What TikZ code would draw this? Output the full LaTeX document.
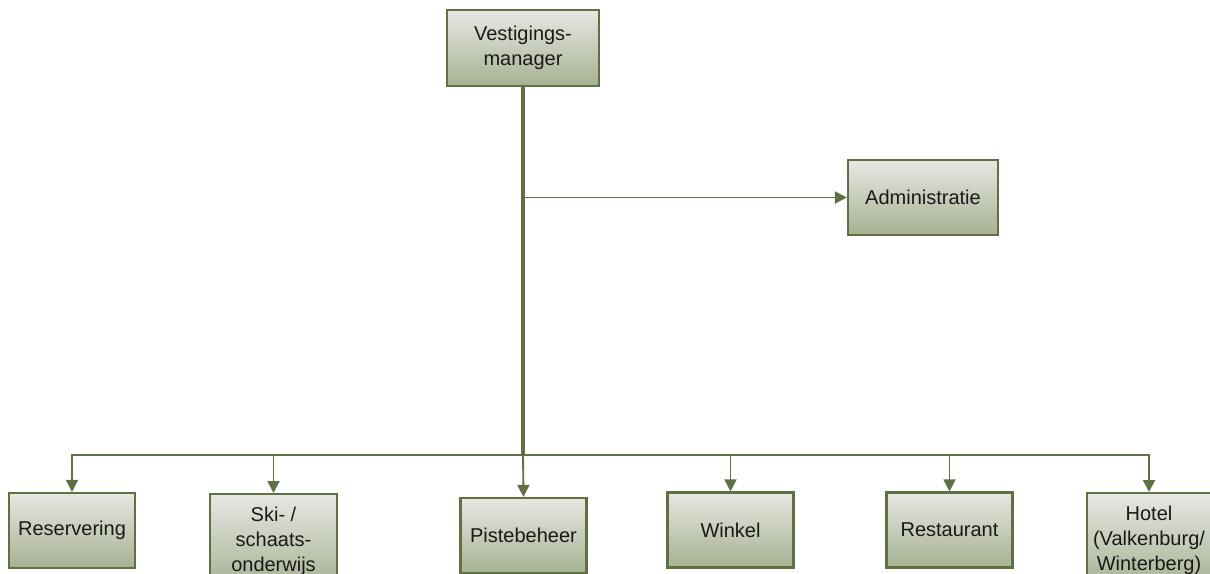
\documentclass[tikz,border=0pt]{standalone}
\usepackage{fontspec}
\setmainfont{Liberation Sans}
\usetikzlibrary{arrows.meta}

\definecolor{olive}{RGB}{95,113,67}
\definecolor{boxtop}{RGB}{230,232,226}
\definecolor{boxbot}{RGB}{166,177,146}

\tikzset{
  box/.style={draw=olive, line width=1.6pt, top color=boxtop, bottom color=boxbot,
    align=center, inner sep=2pt, minimum height=56.25pt, minimum width=94.5pt,
    font=\fontsize{15}{19}\selectfont, text=black!90},
  link/.style={draw=olive, line width=1.4pt, -{Triangle[length=9pt,width=9pt]}},
  trunk/.style={draw=olive, line width=2.3pt}
}

\begin{document}
\begin{tikzpicture}[x=0.75pt, y=-0.75pt]
            \useasboundingbox (0,0) rectangle (1210,574);
            \clip (0,0) rectangle (1210,574);

            % Draw the boxes
            \node[box, minimum width=114pt, minimum height=57pt] (mgr) at (523,48) {Vestigings-\\manager};
            \node[box, minimum width=112.5pt] (adm) at (923,197.5) {Administratie};

            \node[box] (res) at (72,530.5) {Reservering};
            \node[box, anchor=north, minimum width=95pt, minimum height=71pt] (ski) at (273.5,493) {Ski- /\\schaats-\\onderwijs};
            \node[box] (pist) at (523.5,535.5) {Pistebeheer};
            \node[box] (wink) at (730.5,530) {Winkel};
            \node[box] (rest) at (949.5,530) {Restaurant};
            \node[box, anchor=north, minimum width=93pt, minimum height=71pt] (hot) at (1149,492) {Hotel\\(Valkenburg/\\Winterberg)};

            % Draw the trunk and the branch to the side
            \coordinate (bus) at (523,455);
            \draw[trunk] (mgr.south) -- (bus);
            \draw[link] (mgr.south |- adm.west) -- (adm.west);

            % Draw the lines down to the boxes
            \draw[link] (bus) -| (res.north);
            \draw[link] (bus) -| (ski.north);
            \draw[link] (bus) -- (pist.north);
            \draw[link] (bus) -| (wink.north);
            \draw[link] (bus) -| (rest.north);
            \draw[link] (bus) -| (hot.north);
\end{tikzpicture}
\end{document}
